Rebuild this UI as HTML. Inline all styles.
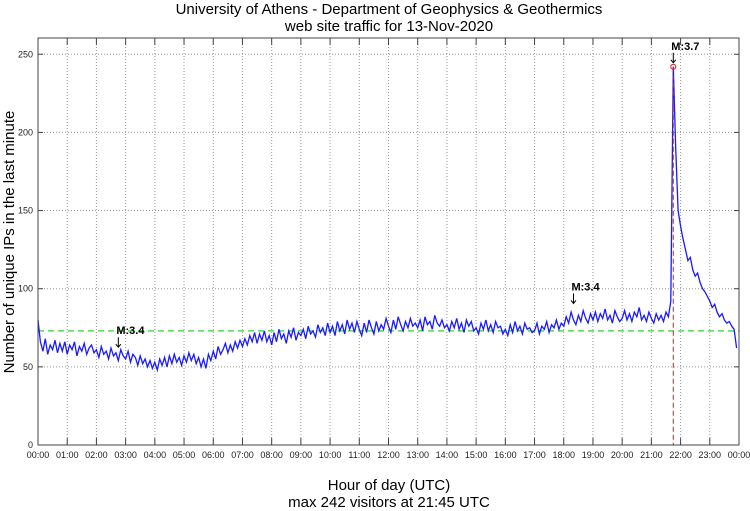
<!DOCTYPE html>
<html><head><meta charset="utf-8"><style>
body{margin:0;background:#fff;}
svg{display:block;font-family:"Liberation Sans",sans-serif;}
</style></head><body>
<svg id="chart" width="750" height="511" viewBox="0 0 750 511" xmlns="http://www.w3.org/2000/svg">
<text x="389" y="14" font-size="15" text-anchor="middle">University of Athens - Department of Geophysics &amp; Geothermics</text>
<text x="389" y="31" font-size="15" text-anchor="middle">web site traffic for 13-Nov-2020</text>
<text transform="translate(14,242) rotate(-90)" font-size="15" text-anchor="middle">Number of unique IPs in the last minute</text>
<text x="389" y="490" font-size="15" text-anchor="middle">Hour of day (UTC)</text>
<text x="389" y="507" font-size="15" text-anchor="middle">max 242 visitors at 21:45 UTC</text>
<g id="grid"></g><g id="series"></g><g id="axes"></g>
</svg>
<script>
const yTicks=[0,50,100,150,200,250];
const xTickLabels=["00:00","01:00","02:00","03:00","04:00","05:00","06:00","07:00","08:00","09:00","10:00","11:00","12:00","13:00","14:00","15:00","16:00","17:00","18:00","19:00","20:00","21:00","22:00","23:00","00:00"];
const stepMinutes=5;
const visitors=[
80,66,60,68,58,64,61,67,59,65,60,66,
58,64,61,66,57,63,60,65,58,62,64,59,
61,56,63,58,60,55,62,57,59,54,61,57,
55,60,53,58,56,51,57,52,55,50,54,49,
53,48,55,51,56,50,57,52,58,53,56,51,
57,53,59,54,58,52,56,50,55,49,58,54,
60,55,63,58,61,65,59,64,60,66,62,67,
63,68,64,70,66,72,65,71,67,73,66,70,
64,72,66,74,68,71,65,73,69,75,67,72,
70,74,68,76,71,73,69,77,72,75,70,78,
72,76,70,79,73,77,71,80,74,78,72,79,
74,70,78,72,80,75,71,79,73,77,74,81,
76,72,80,74,82,77,73,79,75,81,76,78,
75,80,73,82,77,79,74,83,78,76,80,75,
77,73,79,75,81,74,78,72,80,76,79,73,
75,71,78,74,80,73,77,72,79,75,76,71,
74,70,77,72,79,73,76,71,78,74,75,72,
73,78,71,76,74,79,72,77,75,80,74,78,
76,82,78,85,80,77,83,79,86,81,78,84,
80,85,79,84,81,87,80,83,78,86,82,79,
81,86,80,84,79,85,82,88,80,83,79,85,
81,78,84,80,83,79,85,82,92,242,190,150,
140,132,125,118,120,112,108,110,104,100,98,95,
92,88,90,85,82,84,80,78,79,76,74,62];
const meanValue=73;
const maxValue=242, maxMinute=21*60+45;
const markers=[{minute:165,value:60,label:"M:3.4"},{minute:1100,value:88,label:"M:3.4"},{minute:1305,value:242,label:"M:3.7"}];

const L=38,R=739,T=38,B=445,YMAX=260.4;
const xs=m=>L+(m/1440)*(R-L);
const ys=v=>B-(v/YMAX)*(B-T);
const NS="http://www.w3.org/2000/svg";
function mk(tag,attrs,parent){const e=document.createElementNS(NS,tag);for(const k in attrs)e.setAttribute(k,attrs[k]);parent.appendChild(e);return e;}
const grid=document.getElementById('grid'),series=document.getElementById('series'),axes=document.getElementById('axes');
mk('rect',{x:L,y:T,width:R-L,height:B-T,fill:'none',stroke:'#444','stroke-width':1},axes);
yTicks.forEach(v=>{
 const y=ys(v);
 if(v>0){const g=mk('line',{x1:L,x2:R,y1:y,y2:y,stroke:'#999','stroke-dasharray':'1,2'},grid);
 
 }
 mk('line',{x1:L,x2:L+5,y1:y,y2:y,stroke:'#444'},axes);
 mk('line',{x1:R,x2:R-5,y1:y,y2:y,stroke:'#444'},axes);
 const t=mk('text',{x:L-5,y:y+3,'font-size':9,'text-anchor':'end',fill:'#222'},axes);t.textContent=v;
 
 
});
xTickLabels.forEach((lab,i)=>{
 const x=xs(i*60);
 if(i>0&&i<24){const g=mk('line',{x1:x,x2:x,y1:T,y2:B,stroke:'#999','stroke-dasharray':'1,2'},grid);
 
 }
 mk('line',{x1:x,x2:x,y1:B,y2:B-7,stroke:'#444'},axes);
 mk('line',{x1:x,x2:x,y1:T,y2:T+7,stroke:'#444'},axes);
 const t=mk('text',{x:x,y:B+13,'font-size':9,'text-anchor':'middle',fill:'#222'},axes);t.textContent=lab;
 
 
});
const mean=mk('line',{x1:L,x2:R,y1:ys(meanValue),y2:ys(meanValue),stroke:'#22dd22','stroke-width':1.2,'stroke-dasharray':'6,4'},series);


let d='';visitors.forEach((v,i)=>{d+=(i?'L':'M')+xs(i*stepMinutes).toFixed(1)+','+ys(v).toFixed(1);});
const p=mk('path',{d:d,fill:'none',stroke:'#1a1aff','stroke-width':1.3},series);


const vl=mk('line',{x1:xs(maxMinute),x2:xs(maxMinute),y1:ys(maxValue),y2:B,stroke:'#a03030','stroke-dasharray':'5,3'},series);


const c=mk('circle',{cx:xs(maxMinute),cy:ys(maxValue),r:2.5,fill:'none',stroke:'red'},series);


markers.forEach(m=>{
 const x=xs(m.minute),y=ys(m.value)-4;
 const g=mk('g',{},series);
 
 
 mk('line',{x1:x,x2:x,y1:y-10,y2:y,stroke:'#000'},g);
 mk('path',{d:`M${x-2.5},${y-3}L${x},${y}L${x+2.5},${y-3}`,fill:'none',stroke:'#000'},g);
 const t=mk('text',{x:x-2,y:y-13,'font-size':11,'font-weight':'bold'},g);t.textContent=m.label;
});
</script>
</body></html>
